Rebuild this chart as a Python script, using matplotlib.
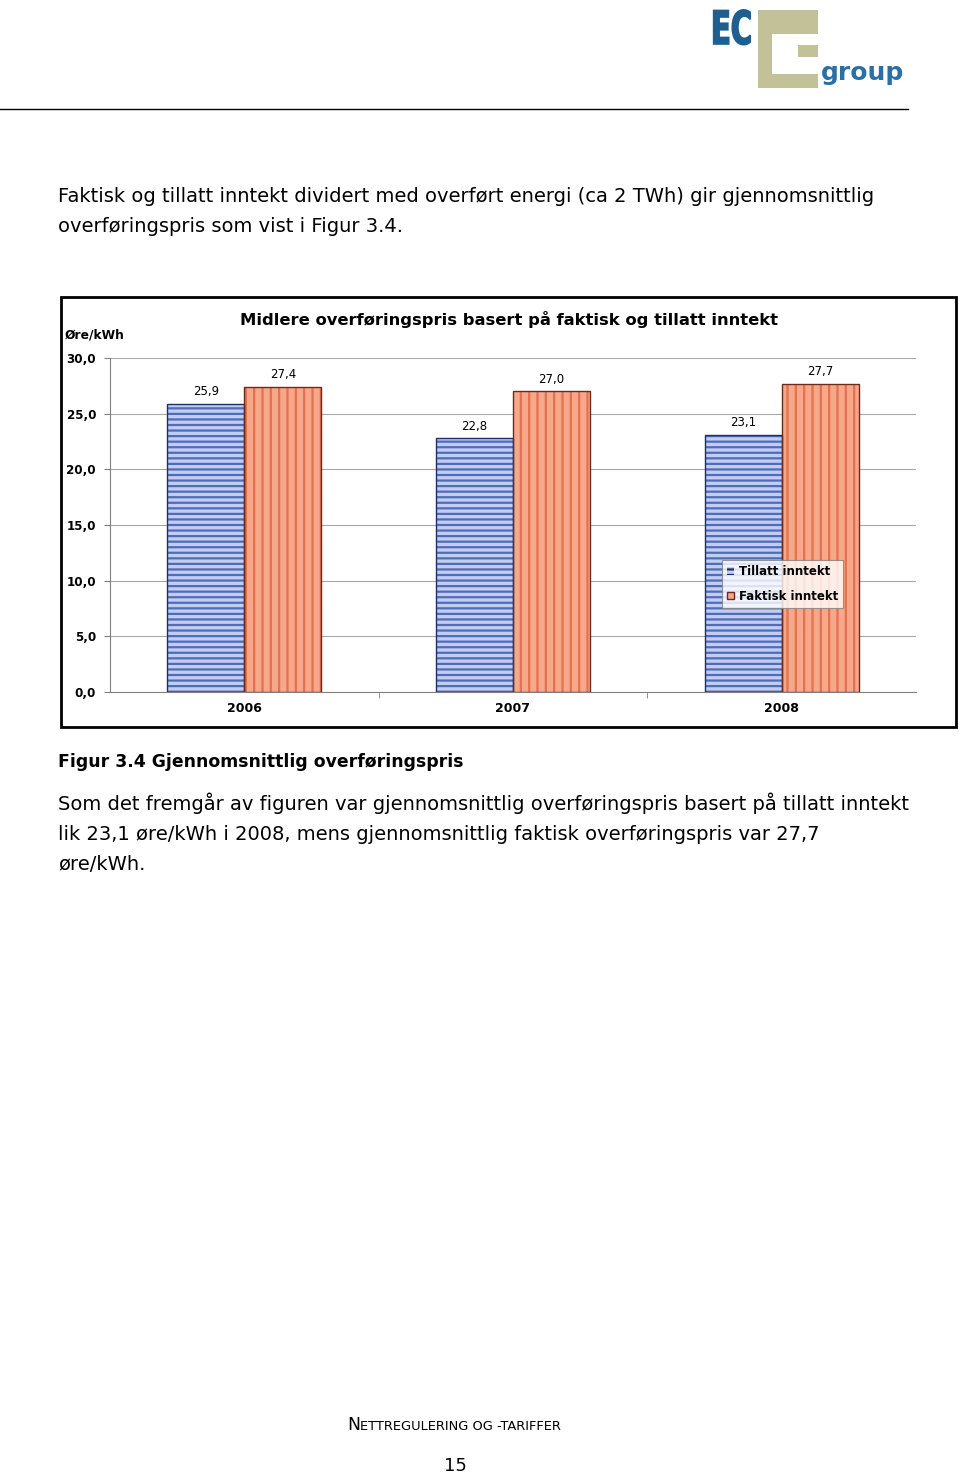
import matplotlib.pyplot as plt
from matplotlib.patches import Rectangle, PathPatch
from matplotlib.textpath import TextPath
from matplotlib.font_manager import FontProperties
from matplotlib.transforms import Affine2D
import numpy as np

# chart data
years = ['2006', '2007', '2008']
tillatt = [25.9, 22.8, 23.1]
faktisk = [27.4, 27.0, 27.7]
yticks = [0, 5, 10, 15, 20, 25, 30]

para1 = ['Faktisk og tillatt inntekt dividert med overført energi (ca 2 TWh) gir gjennomsnittlig',
         'overføringspris som vist i Figur 3.4.']
caption = 'Figur 3.4 Gjennomsnittlig overføringspris'
para2 = ['Som det fremgår av figuren var gjennomsnittlig overføringspris basert på tillatt inntekt',
         'lik 23,1 øre/kWh i 2008, mens gjennomsnittlig faktisk overføringspris var 27,7',
         'øre/kWh.']

plt.rcParams['font.family'] = ['DejaVu Sans']
plt.rcParams['hatch.linewidth'] = 1.6

W, H = 960, 1476
fig = plt.figure(figsize=(W / 100, H / 100), dpi=100)

# page layer in pixel coordinates
page = fig.add_axes([0, 0, 1, 1])
page.set_xlim(0, W)
page.set_ylim(H, 0)
page.axis('off')

# logo
ec = TextPath((0, 0), 'EC', size=1, prop=FontProperties(family='DejaVu Sans', weight='bold'))
page.add_patch(PathPatch(ec, color='#1f5f8f', lw=1.2, ec='#1f5f8f',
                         transform=Affine2D().scale(29, -46).translate(711, 44) + page.transData))
khaki = '#c2c198'
page.add_patch(Rectangle((758, 10), 60, 78, color=khaki, lw=0))
page.add_patch(Rectangle((772, 34), 46, 40, color='white', lw=0))
page.add_patch(Rectangle((798, 45), 20, 12, color=khaki, lw=0))
page.text(821, 80, 'group', fontsize=18, fontweight='bold', color='#2a6fa5', va='baseline', ha='left')
page.plot([0, 908], [109, 109], color='black', lw=1)

# body text
for i, line in enumerate(para1):
    page.text(58, 196 + 30 * i, line, fontsize=14.0, va='center', ha='left')
page.text(58, 762, caption, fontsize=12.4, fontweight='bold', va='center', ha='left')
for i, line in enumerate(para2):
    page.text(58, 803 + 31 * i, line, fontsize=14.0, va='center', ha='left')

page.text(347, 1425, 'N', fontsize=12.4, va='center', ha='left')
page.text(359.5, 1426, 'ETTREGULERING OG -TARIFFER', fontsize=9.4, va='center', ha='left')
page.text(455, 1466, '15', fontsize=13, va='center', ha='center')

# chart frame
page.add_patch(Rectangle((61, 297), 895, 430, fill=False, ec='black', lw=2))
page.text(509, 320, 'Midlere overføringspris basert på faktisk og tillatt inntekt',
          fontsize=11.8, fontweight='bold', ha='center', va='center')
page.text(65, 335, 'Øre/kWh', fontsize=8.8, fontweight='bold', ha='left', va='center')

# chart axes
ax = fig.add_axes([110 / W, 1 - 692 / H, 806 / W, 334 / H])
x = np.arange(len(years))
bw = 0.287
blue_face, blue_line = '#c6cbf2', '#4a6fb8'
red_face, red_line = '#f7a88a', '#e4714f'

ax.bar(x - bw / 2, tillatt, bw, color=blue_face, edgecolor=blue_line, hatch='---', lw=0, zorder=3)
ax.bar(x - bw / 2, tillatt, bw, fill=False, edgecolor='#1c2f66', lw=1, zorder=4)
ax.bar(x + bw / 2, faktisk, bw, color=red_face, edgecolor=red_line, hatch='||', lw=0, zorder=3)
ax.bar(x + bw / 2, faktisk, bw, fill=False, edgecolor='#6b2a1a', lw=1, zorder=4)

for xi, v in zip(x, tillatt):
    ax.text(xi - bw / 2, v + 0.5, ('%.1f' % v).replace('.', ','), fontsize=8.5, ha='center', va='bottom')
for xi, v in zip(x, faktisk):
    ax.text(xi + bw / 2, v + 0.5, ('%.1f' % v).replace('.', ','), fontsize=8.5, ha='center', va='bottom')

ax.set_xlim(-0.5, 2.5)
ax.set_ylim(0, 30)
ax.set_yticks(yticks)
ax.set_yticklabels([('%.1f' % t).replace('.', ',') for t in yticks], fontsize=8.6, fontweight='bold')
ax.yaxis.grid(True, color='#a8a8a8', lw=0.8)
ax.set_axisbelow(True)
ax.set_xticks(x)
ax.set_xticklabels(years, fontsize=9, fontweight='bold')
ax.tick_params(axis='x', length=0, pad=7)
ax.set_xticks([0.5, 1.5], minor=True)
ax.tick_params(axis='x', which='minor', length=4, color='#808080')
ax.tick_params(axis='y', length=4, color='#808080', pad=6)
for s in ['top', 'right']:
    ax.spines[s].set_visible(False)
ax.spines['left'].set_color('#808080')
ax.spines['bottom'].set_color('#808080')

leg = ax.legend(['Tillatt inntekt', 'Faktisk inntekt'], loc='upper left',
                bbox_to_anchor=(612 / 806, (692 - 560) / 334),
                prop={'size': 8.5, 'weight': 'bold'}, frameon=True, fancybox=False,
                handlelength=0.6, handleheight=0.6, handletextpad=0.35, borderpad=0.45,
                labelspacing=0.95, borderaxespad=0)
leg.get_frame().set_edgecolor('#808080')
leg.get_frame().set_linewidth(0.8)
# legend handles come from the outline bars; restyle them
handles = leg.legend_handles
handles[0].set_facecolor(blue_face)
handles[0].set_edgecolor('#1c2f66')
handles[0].set_fill(True)
handles[1].set_facecolor(red_face)
handles[1].set_edgecolor('#6b2a1a')
handles[1].set_fill(True)
leg.set_zorder(6)

fig.savefig('out.png', dpi=100)
